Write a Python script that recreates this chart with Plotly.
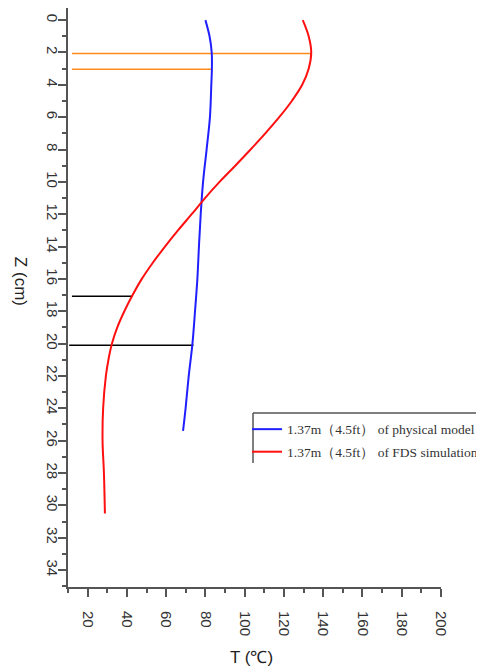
import plotly.graph_objects as go

# ---- data ----
z_phys = [0, 1, 2, 3, 4, 6, 8, 10, 12, 14, 16, 18, 20, 22, 24, 25.4]
t_phys = [80.0, 82.1, 83.2, 83.3, 83.0, 82.3, 80.6, 78.8, 77.6, 76.7, 75.9, 74.7, 73.4, 71.5, 69.9, 68.6]

z_fds = [0, 1, 2, 3, 4, 5, 6, 7, 8, 9, 10, 11, 12, 13, 14, 15, 16, 17, 18, 19, 20, 21, 22, 24, 26, 28, 30.5]
t_fds = [129.6, 132.6, 133.9, 132.6, 129.3, 124.0, 117.6, 110.5, 103.0, 95.2, 87.2, 79.8, 73.0, 66.0, 59.4, 53.2, 47.6, 42.9, 38.7, 35.1, 32.4, 30.6, 29.3, 27.9, 27.6, 28.3, 28.8]

name_phys = "1.37m（4.5ft） of physical model"
name_fds = "1.37m（4.5ft） of FDS simulation"

# reference marker lines: level (Z), start T, end T, colour
ref_z = [2.06, 3.03, 17.08, 20.1]
ref_t0 = [12.0, 12.0, 12.0, 10.6]
ref_t1 = [133.9, 82.8, 42.9, 73.9]
ref_col = ["#ff8c1a", "#ff8c1a", "#000000", "#000000"]

x_ticks = list(range(20, 201, 20))
y_ticks = list(range(0, 35, 2))

fig = go.Figure()

for z, a, b, c in zip(ref_z, ref_t0, ref_t1, ref_col):
    fig.add_trace(go.Scatter(x=[a, b], y=[z, z], mode="lines",
                             line=dict(color=c, width=1.5), showlegend=False,
                             hoverinfo="skip"))

fig.add_trace(go.Scatter(x=t_phys, y=z_phys, mode="lines", name=name_phys, legendgroup="a",
                         line=dict(color="#1f1fff", width=2, shape="spline")))
fig.add_trace(go.Scatter(x=t_fds, y=z_fds, mode="lines", name=name_fds, legendgroup="b",
                         line=dict(color="#ff1010", width=2, shape="spline")))

axis_font = dict(family="Liberation Sans, Arial, sans-serif", size=15, color="#333333")

fig.update_layout(
    width=476, height=663,
    margin=dict(l=60, r=43, t=0, b=84, autoexpand=False),
    paper_bgcolor="white", plot_bgcolor="white",
    showlegend=True,
    legend=dict(x=0.48, y=0.299, xanchor="left", yanchor="top",
                bgcolor="rgba(0,0,0,0)", borderwidth=0,
                font=dict(family="Liberation Serif, Times New Roman, serif", size=13.5, color="#333333"),
                tracegroupgap=2, itemwidth=30),
    xaxis=dict(range=[10, 200], tickvals=x_ticks, ticktext=[str(v) for v in x_ticks],
               tickangle=90, ticks="outside", ticklen=8, tickwidth=2, tickcolor="#555555",
               showline=True, linecolor="#555555", linewidth=2, showgrid=False, zeroline=False,
               tickfont=axis_font, ticklabelstandoff=11,
               minor=dict(dtick=10, tick0=0, ticks="outside", ticklen=4, tickwidth=2, tickcolor="#555555")),
    yaxis=dict(range=[35.05, -0.75], tickvals=y_ticks, ticktext=[str(v) for v in y_ticks],
               tickangle=90, ticks="outside", ticklen=8, tickwidth=2, tickcolor="#555555",
               showline=True, linecolor="#555555", linewidth=2, showgrid=False, zeroline=False,
               tickfont=axis_font, ticklabelstandoff=-7,
               minor=dict(dtick=1, tick0=0, ticks="outside", ticklen=4, tickwidth=2, tickcolor="#555555")),
    annotations=[
        dict(text="Z (cm)", xref="paper", yref="paper", x=-0.1287, y=0.527,
             xanchor="center", yanchor="middle", textangle=90, showarrow=False,
             font=dict(family="Liberation Sans, Arial, sans-serif", size=17, color="#222222")),
        dict(text="T (℃)", xref="paper", yref="paper", x=0.493, y=-0.121,
             xanchor="center", yanchor="middle", showarrow=False,
             font=dict(family="Liberation Sans, Arial, sans-serif", size=17, color="#222222")),
    ],
    shapes=[
        dict(type="line", xref="paper", yref="paper", x0=0.496, x1=1.2, y0=0.3005, y1=0.3005,
             line=dict(color="#555555", width=1.5)),
        dict(type="line", xref="paper", yref="paper", x0=0.496, x1=0.496, y0=0.3005, y1=0.214,
             line=dict(color="#555555", width=1.5)),
    ],
)

fig.write_html("out.html")
